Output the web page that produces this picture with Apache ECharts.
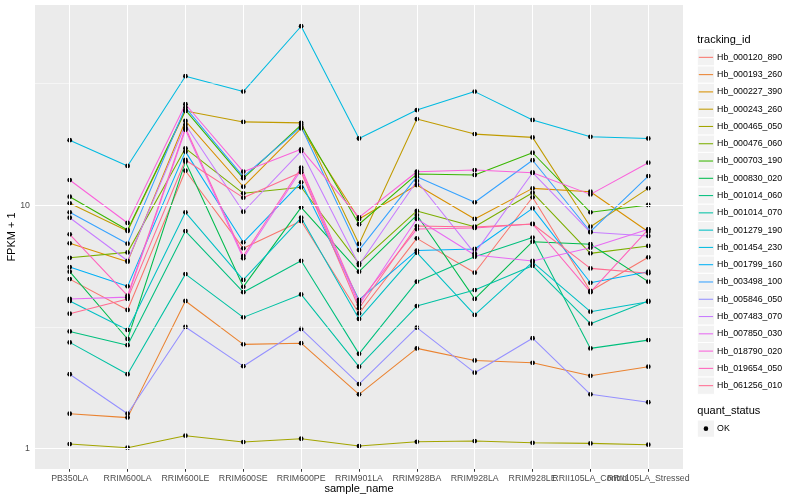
<!DOCTYPE html>
<html><head><meta charset="utf-8">
<script src="https://cdn.jsdelivr.net/npm/echarts@6/dist/echarts.min.js"></script>
<style>html,body{margin:0;padding:0;background:#fff}#c{width:800px;height:500px}</style>
</head><body><div id="c"></div>
<script>
const categories = ["PB350LA","RRIM600LA","RRIM600LE","RRIM600SE","RRIM600PE","RRIM901LA","RRIM928BA","RRIM928LA","RRIM928LE","RRII105LA_Control","RRII105LA_Stressed"];
const trackingIds = ["Hb_000120_890","Hb_000193_260","Hb_000227_390","Hb_000243_260","Hb_000465_050","Hb_000476_060","Hb_000703_190","Hb_000830_020","Hb_001014_060","Hb_001014_070","Hb_001279_190","Hb_001454_230","Hb_001799_160","Hb_003498_100","Hb_005846_050","Hb_007483_070","Hb_007850_030","Hb_018790_020","Hb_019654_050","Hb_061256_010"];
const colors = ["#F8766D","#EA8331","#D89000","#C09B00","#A3A500","#7CAE00","#39B600","#00BB4E","#00BF7D","#00C1A3","#00BFC4","#00BAE0","#00B0F6","#35A2FF","#9590FF","#C77CFF","#E76BF3","#FA62DB","#FF62BC","#FF6C91"];
const yTicks = [1, 10];
const yMinorGrid = [3.1623, 31.623];
const quantStatus = ["OK"];

const hb_000120_890 = [4.97, 3.71, 13.86, 6.65, 8.61, 3.59, 7.31, 5.28, 10.78, 4.44, 6.11];
const hb_000193_260 = [1.39, 1.34, 4.04, 2.68, 2.71, 1.67, 2.58, 2.30, 2.25, 1.99, 2.17];
const hb_000227_390 = [6.97, 5.86, 22.2, 11.91, 20.7, 8.78, 12.11, 8.78, 11.73, 11.36, 7.78];
const hb_000243_260 = [10.18, 7.83, 24.4, 22.0, 21.8, 6.93, 22.6, 19.6, 19.0, 8.16, 11.73];
const hb_000465_050 = [1.043, 1.008, 1.129, 1.063, 1.097, 1.024, 1.066, 1.073, 1.056, 1.050, 1.037];
const hb_000476_060 = [6.08, 6.40, 17.13, 11.19, 11.85, 5.77, 9.47, 8.16, 11.26, 6.34, 6.80];
const hb_000703_190 = [10.84, 7.91, 24.6, 12.90, 21.4, 8.35, 13.43, 13.31, 16.43, 9.35, 10.02];
const hb_000830_020 = [5.33, 2.82, 15.10, 4.62, 9.80, 5.33, 9.11, 4.12, 7.08, 6.91, 4.85];
const hb_001014_060 = [3.03, 2.66, 7.83, 4.39, 5.91, 2.45, 4.85, 6.14, 7.36, 2.58, 2.79];
const hb_001014_070 = [2.73, 2.02, 5.21, 3.46, 4.30, 2.17, 3.85, 4.48, 5.64, 3.26, 4.04];
const hb_001279_190 = [4.04, 3.07, 9.35, 4.93, 8.88, 3.41, 6.38, 3.54, 5.84, 3.65, 4.01];
const hb_001454_230 = [18.5, 14.5, 33.9, 29.3, 54.4, 18.8, 24.6, 29.3, 22.4, 19.1, 18.8];
const hb_001799_160 = [5.57, 4.64, 16.6, 7.04, 12.42, 4.08, 6.51, 6.61, 9.71, 4.80, 5.33];
const hb_003498_100 = [9.35, 6.95, 25.2, 13.10, 21.0, 6.54, 13.10, 10.28, 15.30, 7.78, 13.18];
const hb_005846_050 = [2.02, 1.39, 3.16, 2.18, 3.10, 1.84, 3.14, 2.05, 2.84, 1.67, 1.55];
const hb_007483_070 = [8.88, 5.91, 21.4, 9.40, 16.7, 5.68, 12.58, 6.34, 13.60, 7.74, 7.47];
const hb_007850_030 = [4.12, 4.19, 20.4, 6.05, 13.95, 3.89, 8.78, 6.24, 5.90, 6.69, 7.96];
const hb_018790_020 = [12.69, 8.45, 26.0, 13.73, 16.97, 8.92, 13.73, 13.95, 13.60, 11.08, 14.95];
const hb_019654_050 = [7.59, 4.25, 20.8, 6.18, 14.26, 4.00, 7.98, 8.06, 8.37, 4.39, 7.96];
const hb_061256_010 = [3.58, 4.12, 15.34, 10.74, 13.66, 3.77, 8.21, 8.13, 8.37, 5.50, 5.25];

const seriesValues = [hb_000120_890, hb_000193_260, hb_000227_390, hb_000243_260, hb_000465_050, hb_000476_060, hb_000703_190, hb_000830_020, hb_001014_060, hb_001014_070, hb_001279_190, hb_001454_230, hb_001799_160, hb_003498_100, hb_005846_050, hb_007483_070, hb_007850_030, hb_018790_020, hb_019654_050, hb_061256_010];

const FONT = "Liberation Sans, Arial, Helvetica, sans-serif";
const P = {left: 35, top: 5, right: 683, bottom: 469};
const EXP = 0.6;
const nCat = categories.length;
const unit = (P.right - P.left) / (nCat - 1 + 2 * EXP);
const chart = echarts.init(document.getElementById('c'), null, {renderer: 'canvas'});

const catIdx = categories.map((c, i) => i);
const gridLines = [];
catIdx.forEach(i => gridLines.push({xAxis: i, lineStyle: {color: '#fff', width: 1.07, type: 'solid'}}));
yTicks.forEach(v => gridLines.push({yAxis: v, lineStyle: {color: '#fff', width: 1.07, type: 'solid'}}));
yMinorGrid.forEach(v => gridLines.push({yAxis: v, lineStyle: {color: '#fff', width: 0.53, type: 'solid'}}));

const series = [{
  type: 'line', name: '_grid', data: [[0, 1]], showSymbol: false, symbol: 'none',
  lineStyle: {opacity: 0}, z: 1, silent: true, animation: false,
  markLine: {silent: true, symbol: 'none', label: {show: false}, animation: false,
    lineStyle: {type: 'solid', color: '#fff'},
    emphasis: {disabled: true}, data: gridLines}
}];
seriesValues.forEach((vals, k) => {
  series.push({
    type: 'line', name: trackingIds[k], data: vals.map((v, i) => [i, v]),
    symbol: 'none', lineStyle: {color: colors[k], width: 1.05}, itemStyle: {color: colors[k]},
    z: 2, silent: true, animation: false, emphasis: {disabled: true}
  });
});
const pts = [];
seriesValues.forEach(vals => vals.forEach((v, i) => pts.push([i, v])));
series.push({
  type: 'scatter', name: 'points', data: pts, symbol: 'circle', symbolSize: 4.8,
  itemStyle: {color: '#000', opacity: 1, borderWidth: 0}, z: 3, silent: true, animation: false, emphasis: {disabled: true}
});

const graphics = [];
graphics.push({type: 'text', x: 12, y: (P.top + P.bottom) / 2, rotation: Math.PI / 2,
  style: {text: 'FPKM + 1', font: '11px ' + FONT, fill: '#000', align: 'center', verticalAlign: 'middle'}});
graphics.push({type: 'text', x: (P.left + P.right) / 2, y: 489,
  style: {text: 'sample_name', font: '11px ' + FONT, fill: '#000', align: 'center', verticalAlign: 'middle'}});
const LX = 697.3, KS = 17.28, L0 = 48.7;
graphics.push({type: 'text', x: LX, y: 40, style: {text: 'tracking_id', font: '11px ' + FONT, fill: '#000', align: 'left', verticalAlign: 'middle'}});
trackingIds.forEach((name, i) => {
  const y0 = L0 + KS * i;
  graphics.push({type: 'rect', shape: {x: LX, y: y0, width: KS, height: KS}, style: {fill: '#F2F2F2', stroke: '#fff', lineWidth: 1}});
  graphics.push({type: 'line', shape: {x1: LX + 1.5, y1: y0 + KS / 2, x2: LX + KS - 1.5, y2: y0 + KS / 2}, style: {stroke: colors[i], lineWidth: 1.05}});
  graphics.push({type: 'text', x: LX + KS + 2.5, y: y0 + KS / 2, style: {text: name, font: '8.8px ' + FONT, fill: '#000', align: 'left', verticalAlign: 'middle'}});
});
graphics.push({type: 'text', x: LX, y: 411, style: {text: 'quant_status', font: '11px ' + FONT, fill: '#000', align: 'left', verticalAlign: 'middle'}});
quantStatus.forEach((name, i) => {
  const y0 = 420 + KS * i;
  graphics.push({type: 'rect', shape: {x: LX, y: y0, width: KS, height: KS}, style: {fill: '#F2F2F2', stroke: '#fff', lineWidth: 1}});
  graphics.push({type: 'circle', shape: {cx: LX + KS / 2, cy: y0 + KS / 2, r: 2.3}, style: {fill: '#000'}});
  graphics.push({type: 'text', x: LX + KS + 2.5, y: y0 + KS / 2, style: {text: name, font: '8.8px ' + FONT, fill: '#000', align: 'left', verticalAlign: 'middle'}});
});

chart.setOption({
  animation: false,
  backgroundColor: '#fff',
  grid: [
    {left: P.left, top: P.top, width: P.right - P.left, height: P.bottom - P.top,
      show: true, backgroundColor: '#EBEBEB', borderWidth: 0, containLabel: false},
    {left: P.left + (EXP - 0.5) * unit, top: P.top, width: nCat * unit, height: P.bottom - P.top,
      show: false, containLabel: false}
  ],
  xAxis: [
    {type: 'value', gridIndex: 0, min: -EXP, max: nCat - 1 + EXP,
      axisLine: {show: false}, splitLine: {show: false}, axisTick: {show: false}, axisLabel: {show: false}},
    {type: 'category', gridIndex: 1, data: categories, boundaryGap: true,
      axisLine: {show: false}, splitLine: {show: false},
      axisTick: {show: true, alignWithLabel: true, interval: 0, length: 2.75, lineStyle: {color: '#333', width: 1}},
      axisLabel: {show: true, interval: 0, margin: 5, color: '#4D4D4D', fontSize: 8.8, fontFamily: FONT, hideOverlap: false}}
  ],
  yAxis: [
    {type: 'log', gridIndex: 0, logBase: 10, min: 0.824, max: 66.5,
      axisLine: {show: false}, splitLine: {show: false}, minorSplitLine: {show: false},
      axisTick: {show: true, length: 2.75, lineStyle: {color: '#333', width: 1}, customValues: yTicks},
      axisLabel: {show: true, margin: 5, color: '#4D4D4D', fontSize: 8.8, fontFamily: FONT,
        customValues: yTicks, formatter: v => String(Math.round(v)), showMinLabel: true, showMaxLabel: true}},
    {type: 'value', gridIndex: 1, show: false, min: 0, max: 1}
  ],
  series: series,
  graphic: {elements: graphics}
});
</script></body></html>
